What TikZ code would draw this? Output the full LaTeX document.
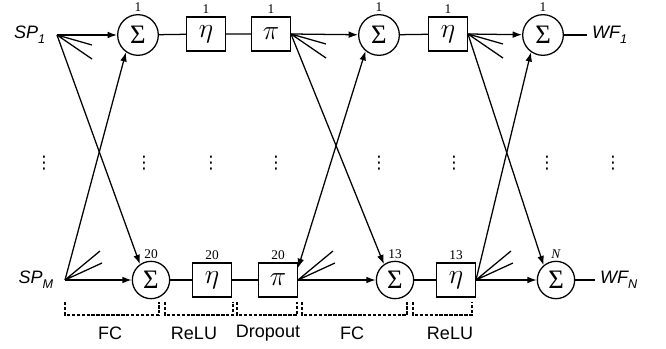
\documentclass[tikz,border=0pt]{standalone}
\usepackage[no-math]{fontspec}
\setmainfont{Liberation Sans}
\newfontfamily\numfont{Liberation Serif}
\newfontfamily\dotsfont{DejaVu Sans}
\usetikzlibrary{arrows.meta,positioning}

\newcommand{\lowsub}[1]{\raisebox{-0.5ex}{\fontsize{9.5}{10}\selectfont #1}}

\begin{document}
\begin{tikzpicture}[x=0.75pt,y=-0.75pt,line width=0.95pt,
	>={Latex[length=7pt,width=5pt]},
	font=\fontsize{13.5}{16}\selectfont,
	sumnode/.style={
		% the adders
		circle, draw, inner sep=0pt,
		minimum size=30.5pt,
		font=\numfont\fontsize{20}{22}\selectfont},
	opbox/.style={
		% activation and dropout boxes
		rectangle, draw, inner sep=0pt,
		minimum width=29pt, minimum height=25.5pt,
		font=\fontsize{21}{21}\selectfont},
	countlabel/.style={font=\numfont\fontsize{10}{11}\selectfont, inner sep=0.8pt},
	every label/.style={countlabel},
	label distance=0.5pt,
	bracket/.style={dash pattern=on 2.6pt off 1.1pt, line width=0.85pt},
	iolabel/.style={font=\fontsize{13.5}{16}\selectfont\itshape}
	]
	\useasboundingbox (0,0) rectangle (666,349);

	% top row
	\coordinate (sp1) at (57,35);
	\node (sp1text) [iolabel,left=5pt of sp1] {SP\lowsub{1}};
	\node (s1) [sumnode,label=above:1] at (138,35) {Σ};
	\node (e1) [opbox,label=above:1] at (206,34) {$\eta$};
	\node (p1) [opbox,label=above:1] at (271,34) {$\pi$};
	\node (s2) [sumnode,label=above:1] at (379,35) {Σ};
	\node (e2) [opbox,label=above:1] at (448,34) {$\eta$};
	\node (s3) [sumnode,label=above:1] at (543,35) {Σ};
	\node (wf1) [iolabel,anchor=west] at (587,35) {WF\lowsub{1}};

	% bottom row
	\coordinate (spM) at (65,280);
	\node (spMtext) [iolabel,left=5pt of spM] {SP\lowsub{M}};
	\node (sb1) [sumnode,minimum size=28pt,label=above:20] at (151,280) {Σ};
	\node (eb1) [opbox,label=above:20] at (212,280) {$\eta$};
	\node (pb) [opbox,label=above:20] at (278,280) {$\pi$};
	\node (sb2) [sumnode,minimum size=28pt,label=above:13] at (395,280) {Σ};
	\node (eb2) [opbox,label=above:13] at (456,280) {$\eta$};
	\node (sb3) [sumnode,minimum size=28pt,label={above:\textit{N}}] at (556,280) {Σ};
	\node (wfN) [iolabel,anchor=west] at (595,280) {WF\lowsub{N}};

	% dots between the rows
	\foreach \x [count=\i] in {44,144,211,276,379,454,547,613}
		\node (dots\i) [font=\dotsfont\fontsize{13}{14}\selectfont] at (\x,163) {⋮};

	% plain links
	\draw (s1) -- (e1) -- (p1);
	\draw (s2) -- (e2);
	\draw (sb1) -- (eb1) -- (pb);
	\draw (sb2) -- (eb2);
	\draw (s3.east) -- (s3.east -| wf1.west);
	\draw (sb3.east) -- (sb3.east -| wfN.west);

	% weighted links
	\draw[->] (sp1) -- (s1);
	\draw[->] (sp1) -- (sb1.125);
	\draw[->] (spM) -- (sb1);
	\draw[->] (spM) -- (s1.235);
	\draw[->] (p1.east) -- (s2);
	\draw[->] (p1.east) -- (sb2.125);
	\draw[->] (pb.east) -- (sb2);
	\draw[<->] ([yshift=9pt]pb.east) -- (s2.230);
	\draw[->] (e2.east) -- (s3);
	\draw[->] (e2.east) -- (sb3.130);
	\draw[->] (eb2.east) -- (sb3);
	\draw[->] (eb2.east) -- (s3.235);

	% the other outputs
	\foreach \n in {sp1,p1.east,e2.east}
		\draw (\n) -- +(35,10) (\n) -- +(35,24);
	\foreach \n in {spM,pb.east,eb2.east}
		\draw (\n) -- +(35,-29) (\n) -- +(37,-17);

	% layers
	\foreach \a/\b in {65/159,165/233,237/297,302/407,413/472}
		\draw[bracket] (\a,302) -- (\a,315) -- (\b,315) -- (\b,302);
	\node (fc1) at (110,333) {FC};
	\node (relu1) at (194,333) {ReLU};
	\node (drop) at (268,333) {Dropout};
	\node (fc2) at (352,333) {FC};
	\node (relu2) at (450,333) {ReLU};
\end{tikzpicture}
\end{document}
